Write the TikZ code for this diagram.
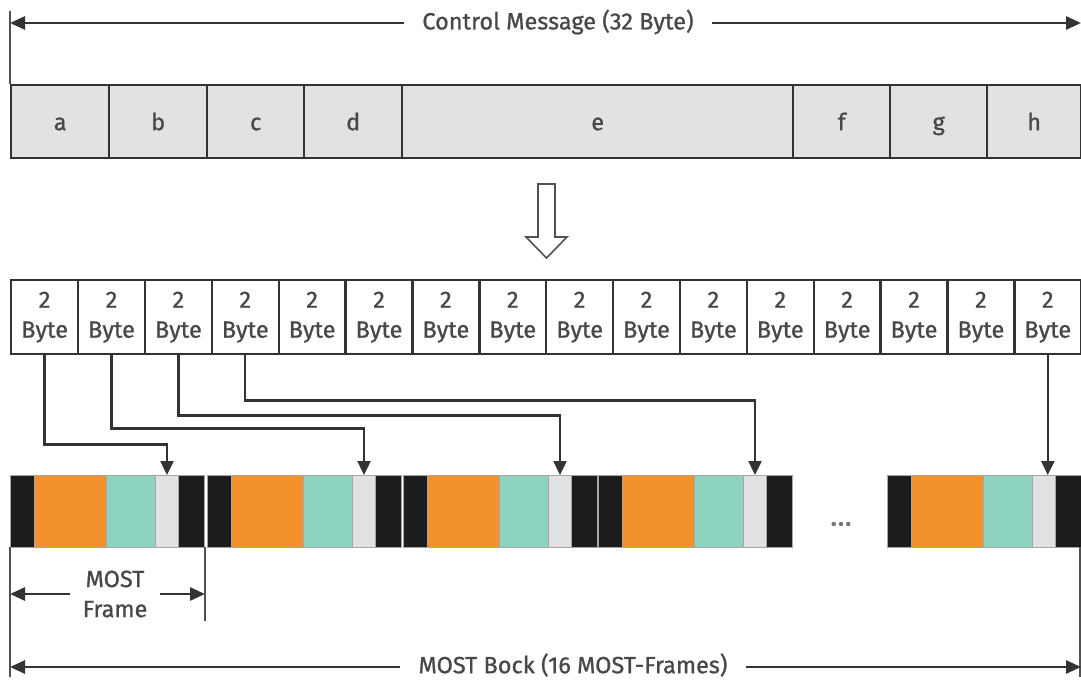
\documentclass[tikz,border=0pt]{standalone}
\usepackage{fontspec}
\setmainfont{Fira Sans}[FakeBold=0.9]
\usetikzlibrary{arrows.meta}

\definecolor{ink}{HTML}{333333}
\definecolor{txt}{HTML}{484848}
\definecolor{cellgray}{HTML}{E2E2E4}
\definecolor{mostblack}{HTML}{1C1C1C}
\definecolor{mostorange}{HTML}{F3922C}
\definecolor{mostteal}{HTML}{8DD3BF}
\definecolor{mostgray}{HTML}{E1E1E3}

\tikzset{
  field/.style={draw=ink, fill=cellgray, line width=2.4pt, minimum height=73pt,
    inner sep=0pt, text height=17pt, text depth=0pt, anchor=north west},
  wordbox/.style={draw=ink, fill=white, line width=2.4pt, minimum width=66.875pt,
    minimum height=74pt, inner sep=0pt, align=center, anchor=north west},
  conn/.style={draw=ink, line width=2.4pt, -{Triangle[length=14pt,width=13pt]}},
  dim/.style={draw=ink, line width=2.8pt, -{Triangle[length=15pt,width=13pt]}},
  tick/.style={draw=ink!85, line width=1.9pt},
  cell/.style={draw=gray!70, line width=1pt},
  slot/.style={draw=gray!70, line width=1pt, fill=mostgray, minimum width=23pt,
    minimum height=72pt, inner sep=0pt, anchor=north west},
  caption/.style={inner xsep=18pt, inner ysep=0pt, text=txt}
}

\begin{document}
\begin{tikzpicture}[x=1pt, y=-1pt, font=\fontsize{23.5}{30}\selectfont, text=txt]
\useasboundingbox (0,0) rectangle (1081,680);

% control message fields
\foreach \l/\xa/\xb in {a/10/108, b/108/206, c/206/303, d/303/401,
                        e/401/792, f/792/889, g/889/986, h/986/1080}
  \node[field, minimum width={\xb-\xa}] (f\l) at (\xa,84) {\l};

% overall length of the control message
\node[caption] (cm) at (558,22) {Control Message (32 Byte)};
\coordinate (cmL) at (10,23);
\coordinate (cmR) at (1081,23);
\draw[tick] (10,11) -- (fa.north west);
\draw[dim] (cm.west |- cmL) -- (cmL);
\draw[dim] (cm.east |- cmR) -- (cmR);

% hollow arrow: message is split into words
\draw[ink!85, line width=1.6pt, fill=white, line join=miter]
  (538,184) -- (555,184) -- (555,237) -- (567,237) -- (546.5,258)
  -- (526,237) -- (538,237) -- cycle;

% sixteen 2-byte words
\foreach \i in {1,...,16}
  \node[wordbox] (b\i) at ({10+(\i-1)*66.875},279) {2\\Byte};

% MOST frames
\foreach \s/\n in {10/1, 207/2, 403/3, 598/4, 887/5} {
  \draw[cell, fill=mostblack] (\s,475) rectangle ++(194,72);
  \draw[cell, fill=mostorange] (\s+24,475) rectangle (\s+96,547);
  \draw[cell, fill=mostteal] (\s+96,475) rectangle (\s+145,547);
  \node[slot] (g\n) at (\s+145,475) {};
}
\node[text=txt!75, font=\fontsize{30}{30}\selectfont] (dots) at (841,524) {...};

% words routed into the frames
\draw[conn] (b1.south) -- ++(0,89) -| (g1.north);
\draw[conn] (b2.south) -- ++(0,73) -| (g2.north);
\draw[conn] (b3.south) -- ++(0,60) -| (g3.north);
\draw[conn] (b4.south) -- ++(0,45) -| (g4.north);
\draw[conn] (b16.south) -- (b16.south |- g5.north);

% one MOST frame
\draw[tick] (10,547) -- (10,677);
\draw[tick] (205,547) -- (205,621);
\draw[tick] (1080,547) -- (1080,677);
\node[caption, inner xsep=12pt, align=center] (mf) at (115,594) {MOST\\Frame};
\coordinate (mfL) at (10,594);
\coordinate (mfR) at (205,594);
\draw[dim] (mf.west) -- (mfL);
\draw[dim] (mf.east) -- (mfR);

% whole MOST block
\node[caption] (mb) at (573,665) {MOST Bock (16 MOST-Frames)};
\coordinate (mbL) at (10,667);
\coordinate (mbR) at (1081,667);
\draw[dim] (mb.west |- mbL) -- (mbL);
\draw[dim] (mb.east |- mbR) -- (mbR);
\end{tikzpicture}
\end{document}
